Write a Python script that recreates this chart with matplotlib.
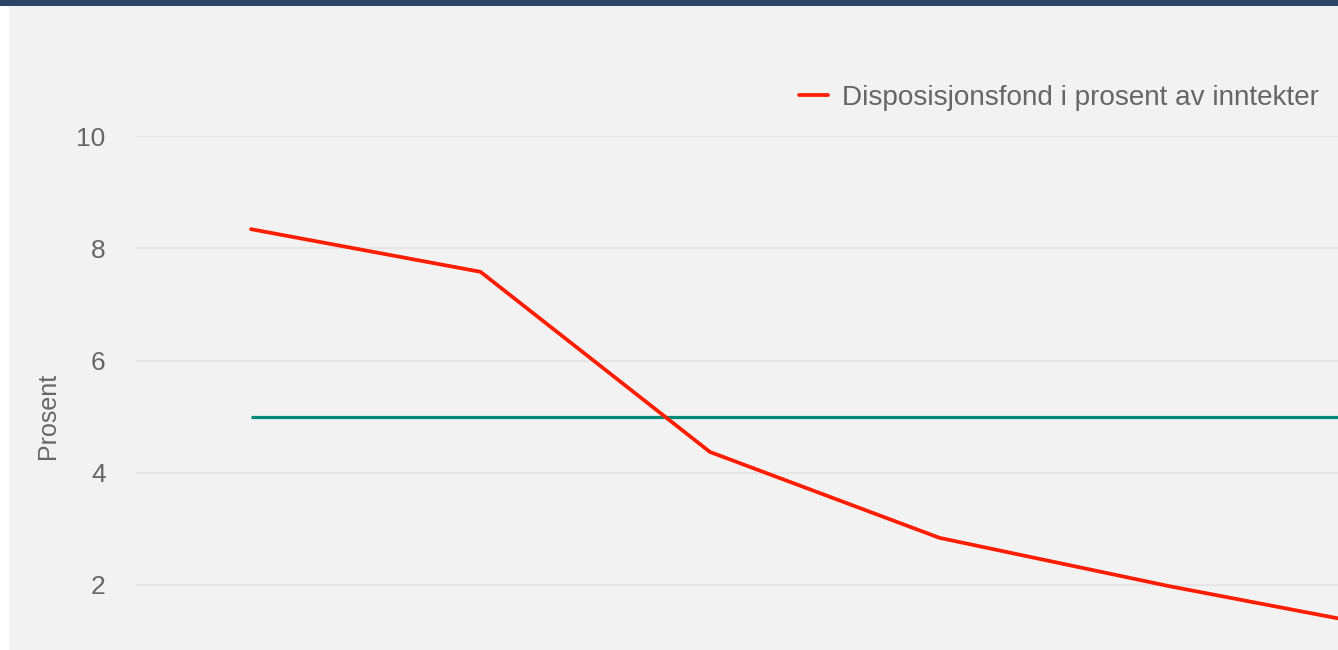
import matplotlib
matplotlib.use('Agg')
import matplotlib.pyplot as plt
from matplotlib.patches import Rectangle

plt.rcParams['font.family'] = ['Liberation Sans', 'DejaVu Sans']

# data
years = ['2021', '2022', '2023', '2024', '2025', '2026']
disp_fond = [8.34, 7.58, 4.37, 2.84, 1.98, 1.20]
anbefalt = [5, 5, 5, 5, 5, 5]
yticks = [2, 4, 6, 8, 10]

W, H = 1338, 650
fig = plt.figure(figsize=(W / 100, H / 100), dpi=100)
fig.patch.set_facecolor('white')

# gray panel + dark top stripe
fig.add_artist(Rectangle((9 / W, 0), 1, 1, transform=fig.transFigure,
                         facecolor='#f2f2f2', edgecolor='none', zorder=-10))
fig.add_artist(Rectangle((0, 1 - 6 / H), 1, 6 / H, transform=fig.transFigure,
                         facecolor='#2c4465', edgecolor='none', zorder=-9))

# axes bigger than the figure, the picture is a crop of a wider chart
left = 136.25 / W
bottom = (H - 697.25) / H
ax = fig.add_axes([left, bottom, 229.5 * len(years) / W, (697.25 - 136) / H])
ax.set_facecolor('none')

x = list(range(len(years)))
ax.plot(x, anbefalt, color='#008b78', lw=2.3, solid_capstyle='butt', zorder=3)
red, = ax.plot(x, disp_fond, color='#ff1d00', lw=2.7, solid_capstyle='round',
               zorder=4, label='Disposisjonsfond i prosent av inntekter')

ax.set_xlim(-0.5, len(years) - 0.5)
ax.set_ylim(0, 10)
ax.set_yticks(yticks)
ax.set_xticks(x)
ax.set_xticklabels(years)
ax.tick_params(axis='y', length=0, pad=22, labelsize=19, labelcolor='#666666')
# x labels fall below the crop
ax.tick_params(axis='x', length=0, labelbottom=False)
ax.grid(axis='y', color='#e5e5e5', lw=1.5)
ax.set_axisbelow(True)
for s in ax.spines.values():
    s.set_visible(False)

fig.text(48 / W, 1 - 416 / H, 'Prosent', rotation=90, ha='center', va='center',
         fontsize=18, color='#666666')

fig.legend(handles=[red], loc='center right',
           bbox_to_anchor=(1319 / W, 1 - 98 / H), frameon=False,
           fontsize=20.1, labelcolor='#666666', handlelength=1.04,
           handletextpad=0.5, borderpad=0, borderaxespad=0)

fig.savefig('out.png', dpi=100)
